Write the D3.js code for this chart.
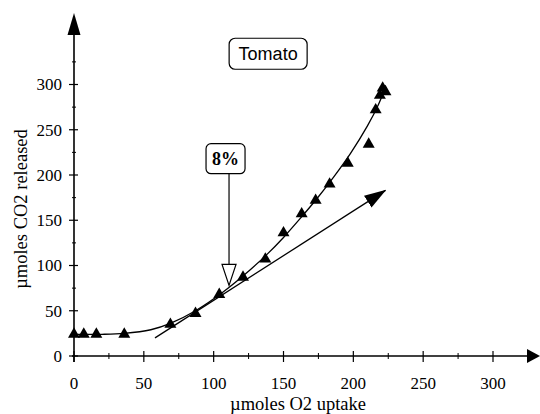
<!DOCTYPE html>
<html lang="en">
<head>
    <meta charset="UTF-8">
    <title>Tomato O2 uptake vs CO2 released</title>
    <script src="https://d3js.org/d3.v7.min.js"></script>
    <style>
        html, body { margin: 0; padding: 0; background: #fff; }
        svg { display: block; }
        .tick-label { font-family: 'Liberation Serif', 'Times New Roman', serif; font-size: 17px; fill: #000; }
        .axis-title { font-family: 'Liberation Serif', 'Times New Roman', serif; font-size: 18.5px; fill: #000; }
    </style>
</head>
<body>
    <div id="chart"></div>

    <script>
        // --- Data ---
        const o2Uptake   = [0, 7, 16, 36, 69, 87, 104, 121, 137, 150, 163, 173, 183, 196, 211, 216, 219, 221, 223];
        const co2Release = [24, 24, 24, 24, 35, 47, 68, 87, 107, 136, 157, 172, 190, 213, 234, 272, 288, 296, 292];

        // fitted curve drawn through the points
        const fitX = [0, 20, 36, 55, 69, 87, 107, 126, 138, 150, 162, 174, 186, 198, 210, 218, 223];
        const fitY = [24, 24, 25, 29, 36, 50, 71, 95, 112, 131, 152, 174, 198, 224, 254, 278, 297];

        // tangent line at the 8% point
        const tangentX = [58, 223];
        const tangentY = [20, 183];

        const xTicks = [0, 50, 100, 150, 200, 250, 300];
        const yTicks = [0, 50, 100, 150, 200, 250, 300];
        const xMinor = [25, 75, 125, 175, 225, 275];
        const yMinor = [25, 75, 125, 175, 225, 275, 325];

        const pointer = { label: "8%", x: 111, tipY: 78, boxX: 108.5, boxY: 218 };
        const title = { label: "Tomato", x: 139, y: 334 };

        // --- Setup ---
        const width = 540, height = 414;
        const svg = d3.select("#chart").append("svg")
            .attr("width", width)
            .attr("height", height)
            .style("background", "#fff");

        const x = d3.scaleLinear().domain([0, 300]).range([74, 493]);
        const y = d3.scaleLinear().domain([0, 300]).range([356, 84.5]);

        const x0 = x(0), y0 = y(0);

        // --- Axes ---
        const axes = svg.append("g").attr("stroke", "#000").attr("fill", "#000");

        // x axis line + arrow
        axes.append("line")
            .attr("x1", x0 - 2).attr("x2", 528)
            .attr("y1", y0).attr("y2", y0)
            .attr("stroke-width", 1.6);
        axes.append("path")
            .attr("d", `M${527},${y0 - 7}L${540},${y0}L${527},${y0 + 7}Z`)
            .attr("stroke", "none");

        // y axis line + arrow
        axes.append("line")
            .attr("x1", x0).attr("x2", x0)
            .attr("y1", y0 + 6).attr("y2", 34)
            .attr("stroke-width", 1.6);
        axes.append("path")
            .attr("d", `M${x0 - 6.5},${35}L${x0},${13}L${x0 + 6.5},${35}Z`)
            .attr("stroke", "none");

        // ticks
        axes.selectAll(".xmaj").data(xTicks).join("line")
            .attr("class", "xmaj")
            .attr("x1", d => x(d)).attr("x2", d => x(d))
            .attr("y1", y0 - 5).attr("y2", y0 + 6)
            .attr("stroke-width", 1.2);
        axes.selectAll(".xmin").data(xMinor).join("line")
            .attr("class", "xmin")
            .attr("x1", d => x(d)).attr("x2", d => x(d))
            .attr("y1", y0 - 3).attr("y2", y0 + 3)
            .attr("stroke-width", 1);
        axes.selectAll(".ymaj").data(yTicks).join("line")
            .attr("class", "ymaj")
            .attr("x1", x0 - 5).attr("x2", x0 + 4)
            .attr("y1", d => y(d)).attr("y2", d => y(d))
            .attr("stroke-width", 1.2);
        axes.selectAll(".ymin").data(yMinor).join("line")
            .attr("class", "ymin")
            .attr("x1", x0 - 2).attr("x2", x0 + 2)
            .attr("y1", d => y(d)).attr("y2", d => y(d))
            .attr("stroke-width", 1);

        // tick labels
        svg.append("g").selectAll("text").data(xTicks).join("text")
            .attr("class", "tick-label")
            .attr("x", d => x(d))
            .attr("y", 389)
            .attr("text-anchor", "middle")
            .text(d => d);
        svg.append("g").selectAll("text").data(yTicks).join("text")
            .attr("class", "tick-label")
            .attr("x", 62)
            .attr("y", d => y(d))
            .attr("dy", "0.34em")
            .attr("text-anchor", "end")
            .text(d => d);

        // axis titles
        svg.append("text")
            .attr("class", "axis-title")
            .attr("x", 298).attr("y", 410)
            .attr("text-anchor", "middle")
            .text("\u00b5moles O2 uptake");
        svg.append("text")
            .attr("class", "axis-title")
            .attr("transform", "translate(27,209) rotate(-90)")
            .attr("text-anchor", "middle")
            .text("\u00b5moles CO2 released");

        // --- Fitted curve ---
        const fit = fitX.map((v, i) => [v, fitY[i]]);
        svg.append("path")
            .datum(fit)
            .attr("fill", "none")
            .attr("stroke", "#000")
            .attr("stroke-width", 1.3)
            .attr("d", d3.line().x(d => x(d[0])).y(d => y(d[1])).curve(d3.curveCatmullRom));

        // --- Tangent arrow ---
        svg.append("defs").append("marker")
            .attr("id", "head")
            .attr("viewBox", "0 0 22 14")
            .attr("refX", 21).attr("refY", 7)
            .attr("markerWidth", 22).attr("markerHeight", 14)
            .attr("markerUnits", "userSpaceOnUse")
            .attr("orient", "auto")
            .append("path")
            .attr("d", "M0,0L22,7L0,14Z")
            .attr("fill", "#000");

        svg.append("line")
            .attr("x1", x(tangentX[0])).attr("y1", y(tangentY[0]))
            .attr("x2", x(tangentX[1])).attr("y2", y(tangentY[1]))
            .attr("stroke", "#000")
            .attr("stroke-width", 1.3)
            .attr("marker-end", "url(#head)");

        // --- Data points ---
        const pts = o2Uptake.map((v, i) => [v, co2Release[i]]);
        svg.append("g").selectAll("path").data(pts).join("path")
            .attr("transform", d => `translate(${x(d[0])},${y(d[1])})`)
            .attr("d", d3.symbol(d3.symbolTriangle, 62))
            .attr("fill", "#000");

        // --- 8% pointer ---
        const px = x(pointer.x);
        const boxW = 39, boxH = 30;
        const bx = x(pointer.boxX), by = y(pointer.boxY);
        const tipY = y(pointer.tipY);
        svg.append("line")
            .attr("x1", px).attr("x2", px)
            .attr("y1", by + boxH / 2).attr("y2", tipY - 20)
            .attr("stroke", "#000").attr("stroke-width", 1.2);
        svg.append("path")
            .attr("d", `M${px - 7},${tipY - 21}L${px + 7},${tipY - 21}L${px},${tipY}Z`)
            .attr("fill", "#fff").attr("stroke", "#000").attr("stroke-width", 1.2);
        svg.append("rect")
            .attr("x", bx - boxW / 2).attr("y", by - boxH / 2)
            .attr("width", boxW).attr("height", boxH)
            .attr("rx", 5)
            .attr("fill", "#fff").attr("stroke", "#000").attr("stroke-width", 1.2);
        svg.append("text")
            .attr("x", bx).attr("y", by)
            .attr("dy", "0.35em")
            .attr("text-anchor", "middle")
            .style("font-family", "'Liberation Serif', 'Times New Roman', serif")
            .style("font-weight", "bold")
            .style("font-size", "18px")
            .text(pointer.label);

        // --- Tomato label ---
        const tx = x(title.x), ty = y(title.y);
        svg.append("rect")
            .attr("x", tx - 39).attr("y", ty - 15.5)
            .attr("width", 78).attr("height", 31)
            .attr("rx", 6)
            .attr("fill", "#fff").attr("stroke", "#000").attr("stroke-width", 1.2);
        svg.append("text")
            .attr("x", tx).attr("y", ty)
            .attr("dy", "0.36em")
            .attr("text-anchor", "middle")
            .style("font-family", "'Liberation Sans', Arial, sans-serif")
            .style("font-size", "18px")
            .text(title.label);
    </script>
</body>
</html>
